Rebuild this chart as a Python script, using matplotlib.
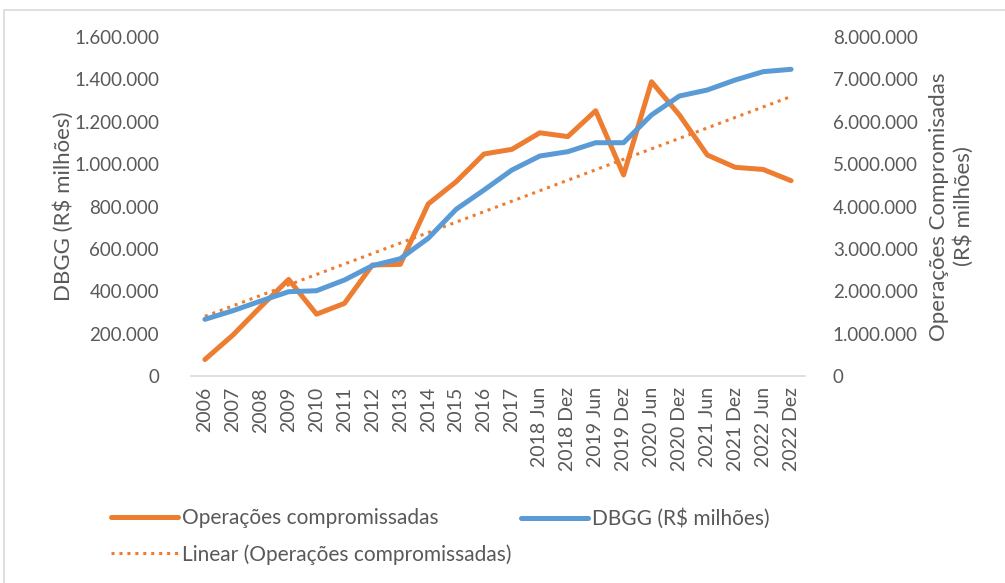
import matplotlib as mpl
import matplotlib.pyplot as plt
import numpy as np
from matplotlib.patches import Rectangle
from matplotlib.ticker import FuncFormatter

periods = ['2006', '2007', '2008', '2009', '2010', '2011', '2012', '2013',
           '2014', '2015', '2016', '2017', '2018 Jun', '2018 Dez',
           '2019 Jun', '2019 Dez', '2020 Jun', '2020 Dez', '2021 Jun',
           '2021 Dez', '2022 Jun', '2022 Dez']

# R$ milhões
operacoes = [78000, 193000, 327000, 456000, 292000, 343000, 524000, 527000,
             812000, 917000, 1048000, 1070000, 1148000, 1130000, 1252000,
             949000, 1389000, 1232000, 1043000, 985000, 975000, 922000]

dbgg = [1338000, 1541000, 1770000, 1990000, 2013000, 2266000, 2604000,
        2769000, 3250000, 3934000, 4390000, 4862000, 5192000, 5294000,
        5506000, 5506000, 6160000, 6608000, 6750000, 6986000, 7182000,
        7238000]

ORANGE = '#ED7D31'
BLUE = '#5B9BD5'
GREY = '#595959'


def milhar(v, pos=None):
    return '{:,}'.format(int(round(v))).replace(',', '.')


def main():
    mpl.rcParams['font.family'] = ['Lato', 'DejaVu Sans']
    mpl.rcParams['font.size'] = 14

    fig = plt.figure(figsize=(10.05, 5.83), dpi=100)
    fig.patches.append(Rectangle((4 / 1005, -0.05), 1.2, (583 - 9.5) / 583 + 0.05,
                                 transform=fig.transFigure, fill=False,
                                 edgecolor='#d9d9d9', lw=1.2))

    ax = fig.add_axes([0.190, 0.355, 0.611, 0.5815])
    ax2 = ax.twinx()

    x = np.arange(len(periods))
    ax.plot(x, operacoes, color=ORANGE, lw=3.6, solid_capstyle='round',
            label='Operações compromissadas')
    k, b = np.polyfit(x, operacoes, 1)
    ax.plot(x, k * x + b, color=ORANGE, lw=2.2, ls=(0, (1, 1.6)),
            label='Linear (Operações compromissadas)')
    ax2.plot(x, dbgg, color=BLUE, lw=3.6, solid_capstyle='round',
             label='DBGG (R$ milhões)')

    ax.set_xlim(-0.5, len(periods) - 0.5)
    ax.set_ylim(0, 1600000)
    ax2.set_ylim(0, 8000000)
    ax.set_yticks(np.arange(0, 1600001, 200000))
    ax2.set_yticks(np.arange(0, 8000001, 1000000))
    ax.yaxis.set_major_formatter(FuncFormatter(milhar))
    ax2.yaxis.set_major_formatter(FuncFormatter(milhar))
    ax.set_xticks(x)
    ax.set_xticklabels(periods, rotation=90, va='top', ha='center')

    for a in (ax, ax2):
        for s in a.spines.values():
            s.set_visible(False)
        a.tick_params(length=0, colors=GREY, labelsize=13.5)
    ax.tick_params(axis='x', labelsize=14)
    ax.spines['bottom'].set_visible(True)
    ax.spines['bottom'].set_color('#d9d9d9')
    ax.spines['bottom'].set_linewidth(1.2)
    ax.tick_params(axis='y', pad=23)
    ax.tick_params(axis='x', pad=8)
    ax2.tick_params(axis='y', pad=20)

    ax.set_ylabel('DBGG (R$ milhões)', color=GREY, fontsize=16, labelpad=0)
    ax2.set_ylabel('Operações Compromisadas\n(R$ milhões)', color=GREY,
                   fontsize=16, labelpad=8, linespacing=1.25)

    h1, l1 = ax.get_legend_handles_labels()
    h2, l2 = ax2.get_legend_handles_labels()
    leg_opts = dict(loc='upper left', frameon=False, handlelength=3.2,
                    handletextpad=0.2, labelspacing=0.75, labelcolor=GREY,
                    fontsize=15, borderaxespad=0)
    top = 1 - 500 / 583
    fig.legend(h1, l1, bbox_to_anchor=(103 / 1005, top), **leg_opts)
    fig.legend(h2, l2, bbox_to_anchor=(513 / 1005, top), **leg_opts)

    fig.savefig('out.png', dpi=100)


if __name__ == '__main__':
    main()
